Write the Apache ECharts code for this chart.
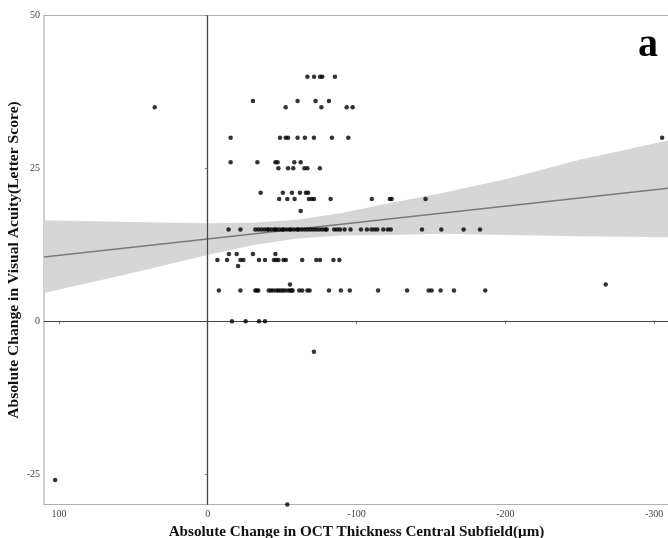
<!DOCTYPE html>
<html><head><meta charset="utf-8">
<script src="https://cdn.jsdelivr.net/npm/echarts@6/dist/echarts.min.js"></script>
<style>html,body{margin:0;padding:0;background:#fff}#c{width:668px;height:538px}</style>
</head><body><div id="c"></div>
<script>
// Tick labels
const xTicks = [100, 0, -100, -200, -300];
const yTicks = [-25, 0, 25, 50];

// Scatter points [x, y]
const scatterPoints = [
  [-67,40],[-71.5,40],[-75.5,40],[-77,40],[-85.5,40],
  [-30.4,36],[-60.4,36],[-72.5,36],[-81.5,36],
  [35.6,35],[-52.4,35],[-76.4,35],[-93.4,35],[-97.4,35],
  [-15.4,30],[-48.6,30],[-52.4,30],[-54,30],[-60.4,30],[-65.3,30],[-71.4,30],[-83.5,30],[-94.5,30],[-305.4,30],
  [-15.4,26],[-33.4,26],[-45.5,26],[-47,26],[-58.2,26],[-62.5,26],
  [-47.5,25],[-54,25],[-57.5,25],[-65,25],[-67,25],[-75.4,25],
  [-35.6,21],[-50.5,21],[-56.6,21],[-62,21],[-66,21],[-67.5,21],
  [-48,20],[-53.5,20],[-58.4,20],[-68,20],[-70,20],[-71.5,20],[-82.6,20],[-110.3,20],[-122.4,20],[-123.6,20],[-146.4,20],
  [-62.5,18],
  [-14,15],[-22,15],[-32,15],[-34,15],[-36,15],[-38,15],[-40,15],[-41,15],[-43,15],[-45,15],[-46,15],[-48,15],
  [-50,15],[-51,15],[-53,15],[-55,15],[-56,15],[-58,15],[-60,15],[-61,15],[-63,15],[-65,15],[-67,15],[-69,15],
  [-71,15],[-73,15],[-75,15],[-77,15],[-79,15],[-80,15],[-85,15],[-87,15],[-89,15],[-92,15],[-96,15],[-103,15],
  [-107,15],[-110,15],[-112,15],[-114,15],[-118,15],[-121,15],[-123,15],[-144,15],[-157,15],[-172,15],[-183,15],
  [-14.3,11],[-19.5,11],[-30.4,11],[-45.5,11],
  [-6.5,10],[-13,10],[-22,10],[-24,10],[-34.5,10],[-38.5,10],[-44.5,10],[-46,10],[-47.5,10],[-51,10],[-52.5,10],
  [-63.5,10],[-73,10],[-75.5,10],[-84.5,10],[-88.5,10],
  [-20.4,9],
  [-55.3,6],[-267.5,6],
  [-7.5,5],[-22,5],[-32,5],[-33,5],[-34,5],[-41,5],[-42.5,5],[-44,5],[-46,5],[-47.5,5],[-49,5],[-50.5,5],[-52,5],
  [-54,5],[-55.5,5],[-56.5,5],[-57,5],[-61.5,5],[-63.5,5],[-67,5],[-68.5,5],[-81.5,5],[-89.5,5],[-95.5,5],
  [-114.5,5],[-134,5],[-148.5,5],[-150.5,5],[-156.5,5],[-165.5,5],[-186.5,5],
  [-16.3,0],[-25.5,0],[-34.5,0],[-38.5,0],
  [-71.4,-5],
  [102.5,-26],
  [-53.5,-30]
];

// Regression fit line
const fitX = [110, -310];
const fitY = [10.5, 21.75];

// Confidence band
const bandX     = [110, 50, 0, -30, -60, -90, -120, -160, -200, -250, -310];
const bandUpper = [16.5, 16.2, 16.0, 16.1, 16.6, 17.7, 19.2, 21.1, 23.2, 26.4, 29.6];
const bandLower = [4.6, 7.9, 10.8, 12.4, 13.5, 14.0, 14.1, 14.3, 14.1, 13.9, 13.7];

const serif = '"Liberation Serif", "DejaVu Serif", serif';
const chart = echarts.init(document.getElementById('c'));

chart.setOption({
  backgroundColor: '#fff',
  animation: false,
  grid: { left: 44, top: 15.5, width: 625, height: 489, show: true, borderColor: '#b0b0b0', borderWidth: 1.2,
          backgroundColor: 'transparent', containLabel: false, outerBoundsMode: 'none' },
  xAxis: {
    type: 'value', inverse: true, min: -310, max: 110,
    name: 'Absolute Change in OCT Thickness Central Subfield(μm)',
    nameLocation: 'middle', nameGap: 17,
    nameTextStyle: { fontFamily: serif, fontWeight: 'bold', fontSize: 15.2, color: '#111' },
    axisLine: { show: true, lineStyle: { color: '#888', width: 1.2 } },
    axisTick: { show: true, length: 3, customValues: xTicks, lineStyle: { color: '#888' } },
    axisLabel: { customValues: xTicks, margin: 5, fontFamily: serif, fontSize: 10, color: '#444' },
    splitLine: { show: false }
  },
  yAxis: {
    type: 'value', min: -30, max: 50,
    name: 'Absolute Change in Visual Acuity(Letter Score)',
    nameLocation: 'middle', nameGap: 22, nameMoveOverlap: false,
    nameTextStyle: { fontFamily: serif, fontWeight: 'bold', fontSize: 15.6, color: '#111' },
    axisLine: { show: true, lineStyle: { color: '#888', width: 1.2 } },
    axisTick: { show: true, length: 3, customValues: yTicks, lineStyle: { color: '#888' } },
    axisLabel: { customValues: yTicks, margin: 4, fontFamily: serif, fontSize: 10, color: '#444' },
    splitLine: { show: false }
  },
  graphic: [{
    type: 'text', right: 10, top: 26,
    style: { text: 'a', font: 'bold 40px "Liberation Serif", serif', fill: '#000' }
  }],
  series: [
    {
      type: 'custom', silent: true, z: 1,
      data: [[0, 0]],
      renderItem: function (params, api) {
        const pts = [];
        for (let i = 0; i < bandX.length; i++) pts.push(api.coord([bandX[i], bandUpper[i]]));
        for (let i = bandX.length - 1; i >= 0; i--) pts.push(api.coord([bandX[i], bandLower[i]]));
        return { type: 'polygon', shape: { points: pts }, style: { fill: '#d6d6d6' } };
      }
    },
    {
      type: 'line', z: 2, silent: true, symbol: 'none',
      data: fitX.map((x, i) => [x, fitY[i]]),
      lineStyle: { color: '#7a7a7a', width: 1.6 }
    },
    {
      type: 'scatter', z: 4, symbol: 'circle', symbolSize: 4.5,
      itemStyle: { color: '#000' },
      data: scatterPoints,
      markLine: {
        silent: true, symbol: 'none', z: 3,
        label: { show: false },
        lineStyle: { color: '#444', width: 1.2, type: 'solid' },
        data: [{ xAxis: 0 }, { yAxis: 0 }]
      }
    }
  ]
});
</script>
</body></html>
